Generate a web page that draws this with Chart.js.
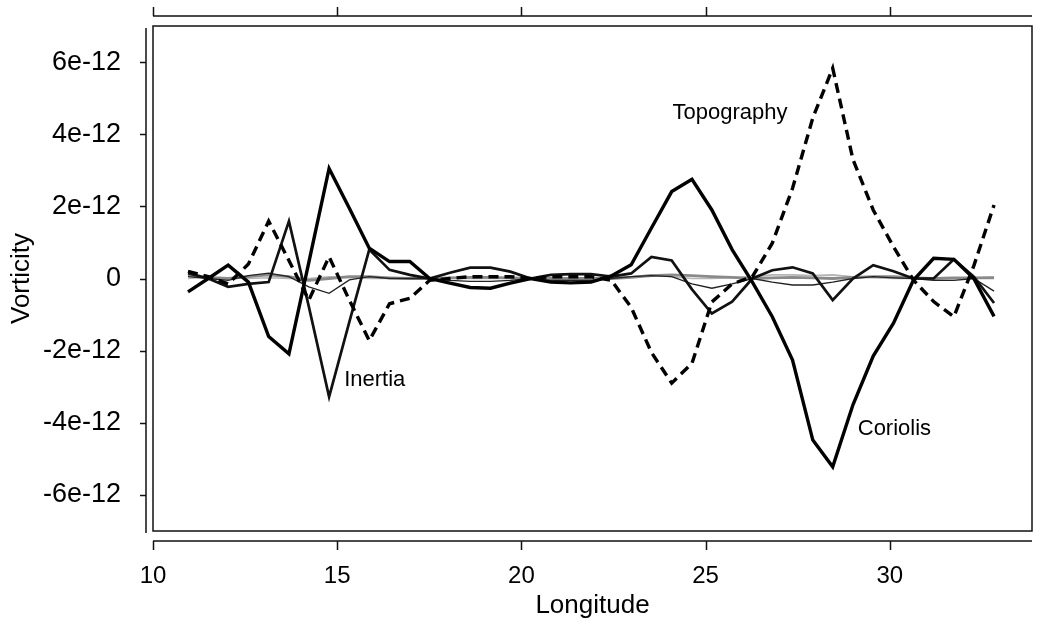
<!DOCTYPE html>
<html>
<head>
<meta charset="utf-8">
<script src="https://cdn.jsdelivr.net/npm/chart.js@4"></script>
<style>
  html, body { margin: 0; padding: 0; background: #fff; }
  canvas { display: block; }
</style>
</head>
<body>
<canvas id="vortChart" width="1040" height="623"></canvas>
<script>
// Longitudes of the samples
const lon = [10.95, 11.50, 12.04, 12.59, 13.14, 13.69, 14.23, 14.78, 15.33, 15.87,
             16.42, 16.97, 17.51, 18.06, 18.61, 19.16, 19.70, 20.25, 20.80, 21.34,
             21.89, 22.44, 22.98, 23.53, 24.08, 24.63, 25.17, 25.72, 26.27, 26.81,
             27.36, 27.91, 28.45, 29.00, 29.55, 30.10, 30.64, 31.19, 31.74, 32.28, 32.83];

// Vorticity terms, in units of 1e-12
const topography = [0.2, 0.05, -0.15, 0.4, 1.59, 0.5, -0.6, 0.6, -0.6, -1.72,
                    -0.7, -0.55, -0.05, 0.0, 0.05, 0.05, 0.05, 0.0, 0.05, 0.05,
                    0.05, -0.05, -0.8, -2.05, -2.9, -2.35, -0.65, -0.15, 0.05, 0.98,
                    2.5, 4.45, 5.83, 3.3, 1.9, 0.88, -0.04, -0.64, -1.06, 0.35, 2.04];
const coriolis = [-0.37, 0.0, 0.37, -0.1, -1.61, -2.09, 0.45, 3.05, 1.95, 0.84,
                  0.47, 0.47, 0.0, -0.13, -0.25, -0.27, -0.13, 0.0, -0.1, -0.12,
                  -0.1, 0.07, 0.38, 1.4, 2.41, 2.75, 1.9, 0.8, -0.1, -1.06,
                  -2.26, -4.48, -5.22, -3.5, -2.15, -1.24, -0.05, 0.56, 0.53, 0.0, -1.05];
const inertia = [0.15, 0.0, -0.23, -0.15, -0.1, 1.59, -0.78, -3.28, -1.2, 0.8,
                 0.24, 0.1, 0.0, 0.16, 0.3, 0.3, 0.19, 0.0, 0.1, 0.12,
                 0.12, 0.05, 0.14, 0.6, 0.5, -0.3, -0.97, -0.64, 0.0, 0.23,
                 0.31, 0.14, -0.6, 0.0, 0.37, 0.2, 0.0, 0.0, 0.53, 0.05, -0.68];
const friction = [0.05, 0.0, -0.05, 0.08, 0.15, 0.05, -0.23, -0.41, -0.04, 0.05,
                  0.0, 0.0, 0.0, -0.05, -0.08, -0.08, -0.05, 0.0, -0.05, -0.05,
                  -0.05, 0.0, 0.05, 0.08, 0.05, -0.15, -0.27, -0.15, 0.0, -0.1,
                  -0.18, -0.18, -0.1, 0.0, 0.05, 0.02, 0.0, -0.05, -0.05, 0.0, -0.35];
const advection = [0.1, 0.02, 0.0, 0.05, 0.1, 0.05, -0.05, 0.0, 0.05, 0.05,
                   0.02, 0.0, 0.0, 0.02, 0.03, 0.03, 0.02, 0.0, 0.0, 0.0,
                   0.0, 0.0, 0.03, 0.08, 0.1, 0.08, 0.05, 0.03, 0.0, 0.02,
                   0.03, 0.02, 0.0, 0.03, 0.05, 0.05, 0.02, 0.0, 0.02, 0.02, 0.02];
const stretching = [0.0, 0.05, 0.02, 0.0, 0.02, 0.0, 0.0, 0.05, 0.02, 0.0,
                    0.0, 0.02, 0.0, 0.0, 0.0, 0.0, 0.0, 0.0, 0.02, 0.02,
                    0.0, 0.0, 0.05, 0.1, 0.05, 0.0, 0.0, 0.02, 0.05, 0.1,
                    0.1, 0.08, 0.1, 0.05, 0.02, 0.0, 0.0, 0.02, 0.0, 0.02, 0.05];

const xTicks = [10, 15, 20, 25, 30];
const yTicks = [-6, -4, -2, 0, 2, 4, 6];
const yTickLabels = ['-6e-12', '-4e-12', '-2e-12', '0', '2e-12', '4e-12', '6e-12'];

// Text written inside the plot, anchored in data coordinates
const curveLabels = [
    { text: 'Topography', x: 24.1, y: 4.59 },
    { text: 'Inertia', x: 15.19, y: -2.81 },
    { text: 'Coriolis', x: 29.13, y: -4.17 }
];

const FONT = '"Liberation Sans", Arial, Helvetica, sans-serif';

function points(values) {
    return values.map((v, i) => ({ x: lon[i], y: v }));
}

// R-style framing: box, offset axes with outward ticks, labels
const framePlugin = {
    id: 'frame',
    afterDraw(chart) {
        const ctx = chart.ctx;
        const area = chart.chartArea;
        const xs = chart.scales.x;
        const ys = chart.scales.y;
        ctx.save();
        ctx.strokeStyle = '#111';
        ctx.lineWidth = 1.5;
        ctx.strokeRect(area.left, area.top, area.right - area.left, area.bottom - area.top);

        // bottom and top axes
        const x0 = xs.getPixelForValue(xTicks[0]);
        const yb = area.bottom + 10;
        const yt = area.top - 10;
        ctx.beginPath();
        ctx.moveTo(x0, yb); ctx.lineTo(area.right, yb);
        ctx.moveTo(x0, yt); ctx.lineTo(area.right, yt);
        xTicks.forEach(t => {
            const px = Math.round(xs.getPixelForValue(t)) + 0.5;
            ctx.moveTo(px, yb); ctx.lineTo(px, yb + 9);
            ctx.moveTo(px, yt); ctx.lineTo(px, yt - 9);
        });
        // left axis
        const xl = area.left - 7;
        ctx.moveTo(xl, area.top + 2); ctx.lineTo(xl, area.bottom + 2);
        yTicks.forEach(t => {
            const py = Math.round(ys.getPixelForValue(t)) + 0.5;
            ctx.moveTo(xl, py); ctx.lineTo(xl - 6, py);
        });
        ctx.stroke();

        ctx.fillStyle = '#000';
        ctx.font = '24px ' + FONT;
        ctx.textAlign = 'center';
        ctx.textBaseline = 'middle';
        xTicks.forEach(t => ctx.fillText(String(t), xs.getPixelForValue(t), area.bottom + 45));

        ctx.font = '27px ' + FONT;
        ctx.textAlign = 'right';
        yTicks.forEach((t, i) => ctx.fillText(yTickLabels[i], area.left - 32, ys.getPixelForValue(t)));

        ctx.font = '26px ' + FONT;
        ctx.textAlign = 'center';
        ctx.fillText('Longitude', (area.left + area.right) / 2, area.bottom + 75);
        ctx.translate(22, (area.top + area.bottom) / 2);
        ctx.rotate(-Math.PI / 2);
        ctx.fillText('Vorticity', 0, 0);
        ctx.restore();
    },
    afterDatasetsDraw(chart) {
        const ctx = chart.ctx;
        ctx.save();
        ctx.fillStyle = '#000';
        ctx.font = '22px ' + FONT;
        ctx.textAlign = 'left';
        ctx.textBaseline = 'middle';
        curveLabels.forEach(l => {
            ctx.fillText(l.text, chart.scales.x.getPixelForValue(l.x), chart.scales.y.getPixelForValue(l.y));
        });
        ctx.restore();
    }
};

const ctx = document.getElementById('vortChart').getContext('2d');

new Chart(ctx, {
    type: 'line',
    data: {
        datasets: [
            { label: 'Topography', data: points(topography), borderColor: '#000', borderWidth: 3.4, borderDash: [10, 6], order: 0 },
            { label: 'Coriolis', data: points(coriolis), borderColor: '#000', borderWidth: 3.4, order: 1 },
            { label: 'Inertia', data: points(inertia), borderColor: '#111', borderWidth: 2.7, order: 2 },
            { label: 'Friction', data: points(friction), borderColor: '#222', borderWidth: 1.3, order: 3 },
            { label: 'Advection', data: points(advection), borderColor: '#8a8a8a', borderWidth: 2.8, order: 4 },
            { label: 'Stretching', data: points(stretching), borderColor: '#b5b5b5', borderWidth: 1.6, order: 5 }
        ].map(d => Object.assign(d, { fill: false, pointRadius: 0, tension: 0, borderJoinStyle: 'miter' }))
    },
    options: {
        responsive: false,
        animation: false,
        devicePixelRatio: 1,
        layout: { padding: { left: 153, right: 8, top: 26, bottom: 92 } },
        plugins: { legend: { display: false }, tooltip: { enabled: false } },
        scales: {
            x: { type: 'linear', min: 10, max: 33.86, display: false },
            y: { type: 'linear', min: -7, max: 7, display: false }
        }
    },
    plugins: [framePlugin]
});
</script>
</body>
</html>
